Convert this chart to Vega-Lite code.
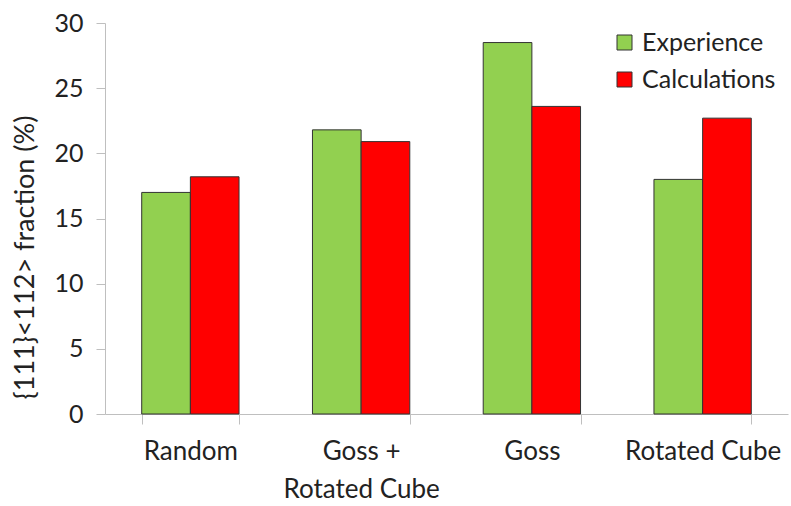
{
  "$schema": "https://vega.github.io/schema/vega-lite/v6.json",
  "autosize": "none",
  "width": 683,
  "height": 391,
  "padding": {"left": 105, "top": 23, "right": 3, "bottom": 92},
  "background": "white",
  "config": {
    "view": {"stroke": null},
    "font": "Lato",
    "axis": {"grid": false, "domainColor": "#bfbfbf", "tickColor": "#bfbfbf", "labelColor": "#222", "titleColor": "#222", "labelFont": "Lato", "titleFont": "Lato"}
  },
  "data": {
    "values": [
      {"category": "Random", "series": "Experience", "value": 17.0},
      {"category": "Random", "series": "Calculations", "value": 18.2},
      {"category": "Goss + Rotated Cube", "series": "Experience", "value": 21.8},
      {"category": "Goss + Rotated Cube", "series": "Calculations", "value": 20.9},
      {"category": "Goss", "series": "Experience", "value": 28.5},
      {"category": "Goss", "series": "Calculations", "value": 23.6},
      {"category": "Rotated Cube", "series": "Experience", "value": 18.0},
      {"category": "Rotated Cube", "series": "Calculations", "value": 22.7}
    ]
  },
  "mark": {"type": "bar", "stroke": "#333", "strokeWidth": 1},
  "encoding": {
    "x": {
      "field": "category",
      "type": "nominal",
      "sort": ["Random", "Goss + Rotated Cube", "Goss", "Rotated Cube"],
      "scale": {"paddingInner": 0.43, "paddingOuter": 0.215},
      "axis": {
        "title": null,
        "labelAngle": 0,
        "labelFontSize": 26,
        "labelPadding": 14,
        "labelLineHeight": 38,
        "tickBand": "extent",
        "tickSize": 10,
        "labelExpr": "datum.value == 'Goss + Rotated Cube' ? ['Goss +', 'Rotated Cube'] : datum.value"
      }
    },
    "xOffset": {"field": "series", "type": "nominal", "sort": ["Experience", "Calculations"], "scale": {"paddingInner": 0, "paddingOuter": 0}},
    "y": {
      "field": "value",
      "type": "quantitative",
      "scale": {"domain": [0, 30]},
      "axis": {
        "title": "{111}<112> fraction (%)",
        "titleFontSize": 27,
        "titleFontWeight": "normal",
        "titlePadding": 14,
        "titleY": 234,
        "values": [0, 5, 10, 15, 20, 25, 30],
        "labelFontSize": 25,
        "tickSize": 9,
        "labelPadding": 13
      }
    },
    "color": {
      "field": "series",
      "type": "nominal",
      "sort": ["Experience", "Calculations"],
      "scale": {"domain": ["Experience", "Calculations"], "range": ["#92D050", "#FF0000"]},
      "legend": {
        "title": null,
        "orient": "none",
        "legendX": 507,
        "legendY": 7,
        "symbolType": "square",
        "symbolSize": 225,
        "symbolStrokeColor": "#333",
        "symbolStrokeWidth": 1,
        "labelFontSize": 25,
        "labelColor": "#222",
        "rowPadding": 11,
        "labelOffset": 5
      }
    }
  }
}
